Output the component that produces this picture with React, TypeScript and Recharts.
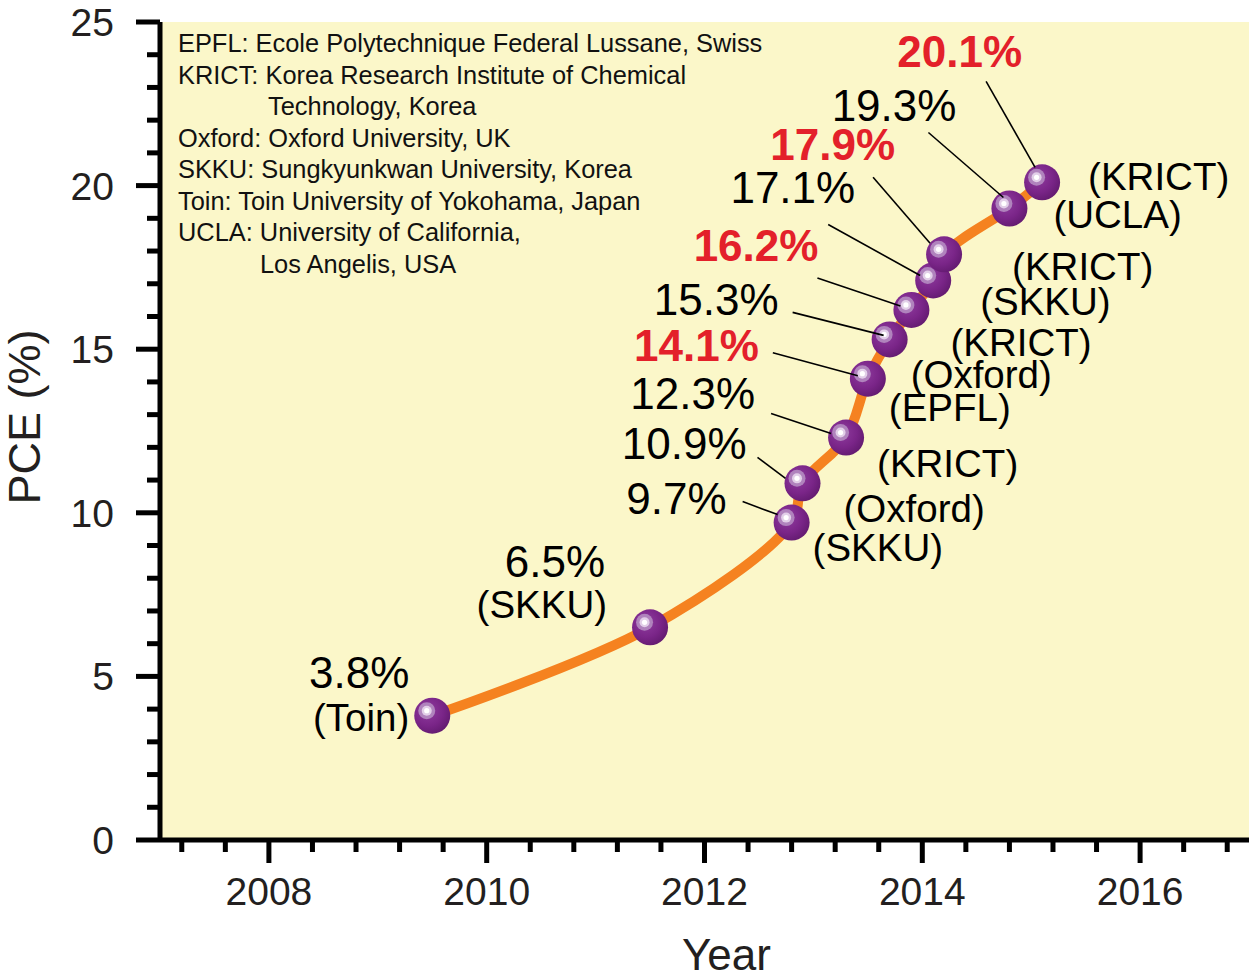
import { LineChart, Line, XAxis, YAxis, CartesianGrid, LabelList } from 'recharts'

// perovskite solar cell record efficiencies
const years = [2009.5, 2011.5, 2012.8, 2012.9, 2013.3, 2013.5, 2013.7, 2013.9, 2014.1, 2014.2, 2014.8, 2015.1]
const pce = [3.8, 6.5, 9.7, 10.9, 12.3, 14.1, 15.3, 16.2, 17.1, 17.9, 19.3, 20.1]
const institutes = ['Toin', 'SKKU', 'SKKU', 'Oxford', 'KRICT', 'EPFL', 'Oxford', 'KRICT', 'SKKU', 'KRICT', 'UCLA', 'KRICT']
const certified = [false, false, false, false, false, true, false, true, false, true, false, true]

const xTicks = [
  2007.2, 2007.6, 2008, 2008.4, 2008.8, 2009.2, 2009.6, 2010, 2010.4, 2010.8, 2011.2, 2011.6, 2012,
  2012.4, 2012.8, 2013.2, 2013.6, 2014, 2014.4, 2014.8, 2015.2, 2015.6, 2016, 2016.4, 2016.8,
]
const xMajor = [2008, 2010, 2012, 2014, 2016]
const yTicks = [0, 1, 2, 3, 4, 5, 6, 7, 8, 9, 10, 11, 12, 13, 14, 15, 16, 17, 18, 19, 20, 21, 22, 23, 24, 25]
const yMajor = [0, 5, 10, 15, 20, 25]

const legendLines = [
  'EPFL: Ecole Polytechnique Federal Lussane, Swiss',
  'KRICT: Korea Research Institute of Chemical',
  'Technology, Korea',
  'Oxford: Oxford University, UK',
  'SKKU: Sungkyunkwan University, Korea',
  'Toin: Toin University of Yokohama, Japan',
  'UCLA: University of California,',
  'Los Angelis, USA',
]
const legendIndent = [0, 0, 90, 0, 0, 0, 0, 82]

// label offsets from each point: percent text (end anchor), institute text, leader line
const labelLayout: { pct: number[]; inst: number[]; instEnd?: boolean; lead?: number[] }[] = [
  { pct: [-23, -28], inst: [-23, 15], instEnd: true },
  { pct: [-45, -50], inst: [-43, -9], instEnd: true },
  { pct: [-65, -9], inst: [21, 38], lead: [-49, -21, -14, -8] },
  { pct: [-56, -24], inst: [41, 39], lead: [-45, -26, -17, -5] },
  { pct: [-91, -29], inst: [31, 39], lead: [-75, -24, -15, -4] },
  { pct: [-109, -18], inst: [21, 42], lead: [-95, -26, -10, -3] },
  { pct: [-111, -24], inst: [21, 49], lead: [-97, -27, -6, -4] },
  { pct: [-93, -49], inst: [39, 46], lead: [-94, -32, -11, -4] },
  { pct: [-78, -77], inst: [47, 35], lead: [-105, -56, -13, -5] },
  { pct: [-49, -94], inst: [68, 26], lead: [-71, -77, -14, -11] },
  { pct: [-53, -88], inst: [44, 19], lead: [-81, -76, -6, -11] },
  { pct: [-20, -115], inst: [46, 8], lead: [-56, -101, -7, -15] },
]

const data = years.map((year, i) => ({ year, pce: pce[i] }))

const FONT = '"Liberation Sans", Arial, Helvetica, sans-serif'
const INK = '#231f20'

// centripetal catmull-rom, smoother than monotone for this hand-drawn trend line
const catmullRom = (context: any) => {
  let pts: number[][] = []
  return {
    areaStart() {},
    areaEnd() {},
    lineStart() {
      pts = []
    },
    point(x: number, y: number) {
      pts.push([+x, +y])
    },
    lineEnd() {
      if (!pts.length) return
      context.moveTo(pts[0][0], pts[0][1])
      for (let i = 0; i < pts.length - 1; i++) {
        const p0 = pts[i - 1] ?? pts[i]
        const p1 = pts[i]
        const p2 = pts[i + 1]
        const p3 = pts[i + 2] ?? p2
        const l01 = Math.sqrt(Math.hypot(p1[0] - p0[0], p1[1] - p0[1]))
        const l12 = Math.sqrt(Math.hypot(p2[0] - p1[0], p2[1] - p1[1]))
        const l23 = Math.sqrt(Math.hypot(p3[0] - p2[0], p3[1] - p2[1]))
        let c1 = p1
        let c2 = p2
        if (l01 > 1e-6) {
          const a = 2 * l01 * l01 + 3 * l01 * l12 + l12 * l12
          const n = 3 * l01 * (l01 + l12)
          c1 = [0, 1].map((k) => (p1[k] * a - p0[k] * l12 * l12 + p2[k] * l01 * l01) / n)
        }
        if (l23 > 1e-6) {
          const b = 2 * l23 * l23 + 3 * l23 * l12 + l12 * l12
          const m = 3 * l23 * (l23 + l12)
          c2 = [0, 1].map((k) => (p2[k] * b + p1[k] * l23 * l23 - p3[k] * l12 * l12) / m)
        }
        context.bezierCurveTo(c1[0], c1[1], c2[0], c2[1], p2[0], p2[1])
      }
    },
  }
}

const XTick = ({ x, y, payload }: any) => {
  const major = xMajor.includes(payload.value)
  return (
    <g>
      <line x1={x} y1={y} x2={x} y2={y + (major ? 23 : 12)} stroke="#000" strokeWidth={5} />
      {major && (
        <text x={x} y={y + 65} textAnchor="middle" fontSize={39} fill={INK}>
          {payload.value}
        </text>
      )}
    </g>
  )
}

const YTick = ({ x, y, payload }: any) => {
  const major = yMajor.includes(payload.value)
  return (
    <g>
      <line x1={x} y1={y} x2={x - (major ? 24 : 13)} y2={y} stroke="#000" strokeWidth={5} />
      {major && (
        <text x={x - 46} y={y + 14} textAnchor="end" fontSize={39} fill={INK}>
          {payload.value}
        </text>
      )}
    </g>
  )
}

const renderDot = (props: any) => {
  const { cx, cy, index } = props
  const id = `sphere-${index}`
  return (
    <g key={id}>
      <defs>
        <radialGradient id={id} cx="38%" cy="36%" r="70%">
          <stop offset="0%" stopColor="#8f3c9e" />
          <stop offset="60%" stopColor="#7a2588" />
          <stop offset="100%" stopColor="#621a6f" />
        </radialGradient>
      </defs>
      <circle cx={cx} cy={cy} r={18} fill={`url(#${id})`} />
      <circle cx={cx - 5.5} cy={cy - 5} r={8.5} fill="#b083bd" />
      <circle cx={cx - 5.5} cy={cy - 5} r={5} fill="#e2cfe8" />
      <circle cx={cx - 5.5} cy={cy - 5} r={2.6} fill="#ffffff" />
    </g>
  )
}

const renderAnnot = (props: any) => {
  const x = props.viewBox?.x ?? props.x
  const y = props.viewBox?.y ?? props.y
  const i = props.index ?? pce.indexOf(props.value)
  const lay = labelLayout[i]
  if (!lay) return null
  const red = certified[i]
  return (
    <g>
      {lay.lead && (
        <line
          x1={x + lay.lead[0]}
          y1={y + lay.lead[1]}
          x2={x + lay.lead[2]}
          y2={y + lay.lead[3]}
          stroke="#000"
          strokeWidth={1.6}
        />
      )}
      <text
        x={x + lay.pct[0]}
        y={y + lay.pct[1]}
        textAnchor="end"
        fontSize={44}
        fontWeight={red ? 700 : 400}
        fill={red ? '#e3202a' : '#000'}
      >
        {pce[i].toFixed(1)}%
      </text>
      <text
        x={x + lay.inst[0]}
        y={y + lay.inst[1]}
        textAnchor={lay.instEnd ? 'end' : 'start'}
        fontSize={38.5}
        fill="#000"
      >
        ({institutes[i]})
      </text>
    </g>
  )
}

export default function App() {
  return (
    <div style={{ position: 'absolute', left: 0, top: 0, width: 1250, height: 977, fontFamily: FONT, background: '#fff' }}>
      <LineChart width={1250} height={977} data={data} margin={{ top: 22, right: 1, bottom: 0, left: 0 }}>
        <CartesianGrid horizontal={false} vertical={false} fill="#fbf7c9" stroke="none" />
        <XAxis
          type="number"
          dataKey="year"
          domain={[2007, 2017]}
          ticks={xTicks}
          interval={0}
          tick={XTick}
          tickLine={false}
          tickSize={0}
          tickMargin={0}
          height={137}
          axisLine={{ stroke: '#000', strokeWidth: 5 }}
          label={{
            content: ({ viewBox }: any) => (
              <text x={viewBox.x + viewBox.width / 2 + 22} y={viewBox.y + viewBox.height - 7} textAnchor="middle" fontSize={44} fill={INK}>
                Year
              </text>
            ),
          }}
        />
        <YAxis
          type="number"
          domain={[0, 25]}
          ticks={yTicks}
          interval={0}
          tick={YTick}
          tickLine={false}
          tickSize={0}
          tickMargin={0}
          width={160}
          axisLine={{ stroke: '#000', strokeWidth: 5 }}
          label={{
            content: ({ viewBox }: any) => {
              const lx = viewBox.x + 40
              const ly = viewBox.y + viewBox.height / 2 - 14
              return (
                <text x={lx} y={ly} transform={`rotate(-90 ${lx} ${ly})`} textAnchor="middle" fontSize={45} fill={INK}>
                  PCE (%)
                </text>
              )
            },
          }}
        />
        <Line
          dataKey="pce"
          type={catmullRom as any}
          stroke="#f58220"
          strokeWidth={10}
          dot={renderDot}
          activeDot={false}
          isAnimationActive={false}
        >
          <LabelList dataKey="pce" content={renderAnnot} />
        </Line>
      </LineChart>
      <svg width={1250} height={977} style={{ position: 'absolute', left: 0, top: 0, pointerEvents: 'none' }}>
        {legendLines.map((t, i) => (
          <text key={t} x={178 + legendIndent[i]} y={52 + 31.5 * i} fontSize={25.4} fill="#111" fontFamily={FONT}>
            {t}
          </text>
        ))}
      </svg>
    </div>
  )
}
